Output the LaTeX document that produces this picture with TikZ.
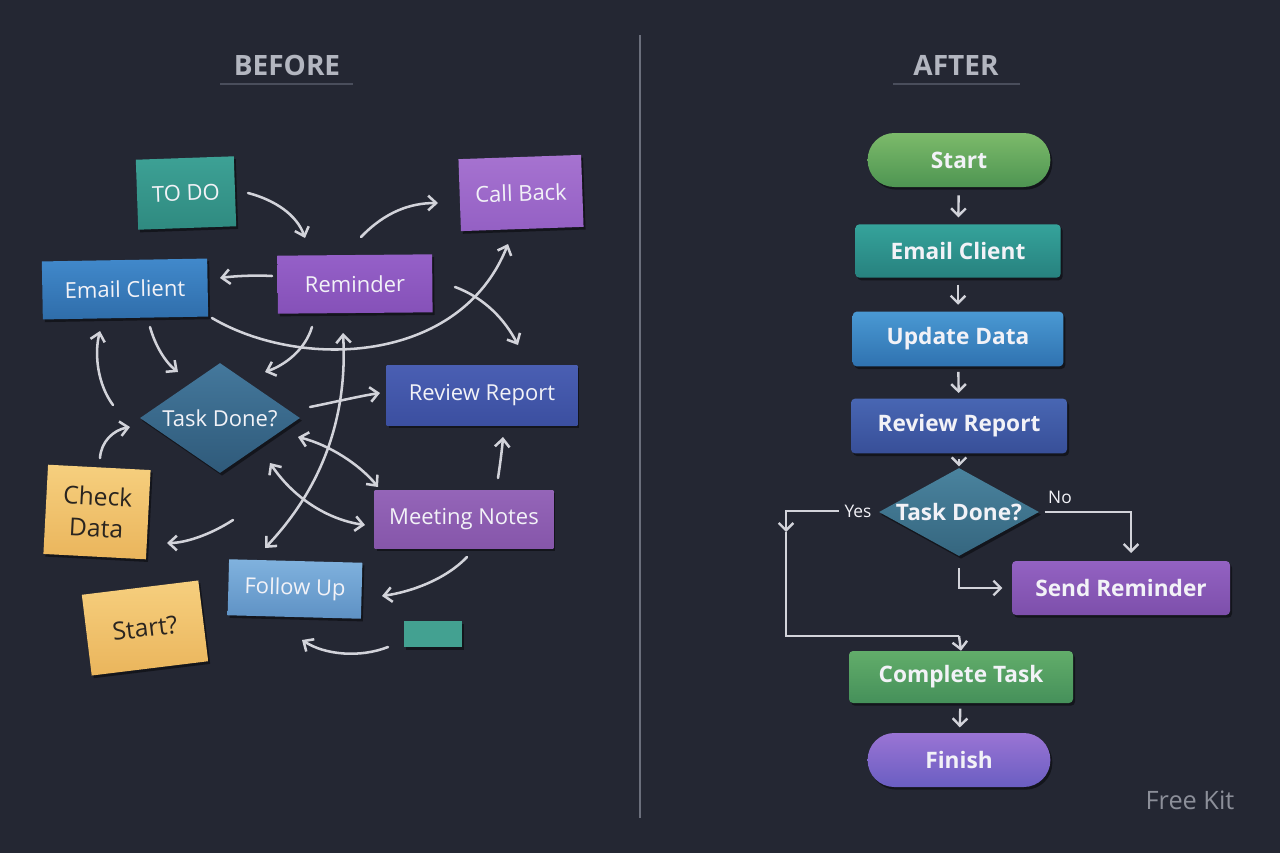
\documentclass[tikz,border=0pt]{standalone}
\usepackage{fontspec}
\setmainfont{Open Sans}
\usetikzlibrary{arrows.meta,shapes.geometric,shadows}
\definecolor{bg}{HTML}{242733}
\definecolor{arrowc}{HTML}{D2D3DA}
\definecolor{headc}{HTML}{B3B6C0}
\definecolor{rulec}{HTML}{4A4E5C}
\definecolor{divc}{HTML}{6B6F7C}
\definecolor{txt}{HTML}{F2F2F7}
\definecolor{ink}{HTML}{2A2520}
\definecolor{fk}{HTML}{8C8F99}
% before
\definecolor{tealT}{HTML}{3DA195}\definecolor{tealB}{HTML}{2F8A80}
\definecolor{cbT}{HTML}{A673D0}\definecolor{cbB}{HTML}{9460C4}
\definecolor{emT}{HTML}{4189CB}\definecolor{emB}{HTML}{2F6DAA}
\definecolor{reT}{HTML}{9560C8}\definecolor{reB}{HTML}{8551B8}
\definecolor{tdT}{HTML}{44789C}\definecolor{tdB}{HTML}{2F5A7A}
\definecolor{rrT}{HTML}{4A5FB3}\definecolor{rrB}{HTML}{3B4FA0}
\definecolor{mnT}{HTML}{9465B8}\definecolor{mnB}{HTML}{8656AA}
\definecolor{fuT}{HTML}{80B2DE}\definecolor{fuB}{HTML}{5E91C4}
\definecolor{yeT}{HTML}{F6CF7E}\definecolor{yeB}{HTML}{EAB55C}
\definecolor{smt}{HTML}{43A191}
% after
\definecolor{stT}{HTML}{7CBA6A}\definecolor{stB}{HTML}{4E9552}
\definecolor{e2T}{HTML}{35A39B}\definecolor{e2B}{HTML}{27817E}
\definecolor{udT}{HTML}{4A99D3}\definecolor{udB}{HTML}{2F72B0}
\definecolor{r2T}{HTML}{4866B3}\definecolor{r2B}{HTML}{384F98}
\definecolor{t2T}{HTML}{4A839E}\definecolor{t2B}{HTML}{35667F}
\definecolor{srT}{HTML}{9362C2}\definecolor{srB}{HTML}{7D4FAB}
\definecolor{ctT}{HTML}{62AD6A}\definecolor{ctB}{HTML}{45905A}
\definecolor{fiT}{HTML}{9A74D4}\definecolor{fiB}{HTML}{6A5EC2}
\begin{document}
\begin{tikzpicture}[x=0.75pt,y=-0.75pt,
  shd/.style={drop shadow={shadow xshift=1.5pt,shadow yshift=-2pt,opacity=0.45,fill=black}},
  sticky/.style={shape=rectangle,inner sep=0pt,text=txt,align=center,font=\fontsize{16.5}{20}\selectfont,shd},
  note/.style={sticky,text=ink,top color=yeT,bottom color=yeB,font=\fontsize{18.5}{24}\selectfont},
  flow/.style={shape=rectangle,rounded corners=3pt,inner sep=0pt,text=txt,font=\bfseries\fontsize{17}{20}\selectfont,shd},
  pill/.style={flow,rounded corners=20pt},
  barr/.style={draw=arrowc,line width=1.9pt,line cap=round,-{Straight Barb[length=6pt,width=11pt]}},
  darr/.style={draw=arrowc,line width=1.9pt,line cap=round,{Straight Barb[length=6pt,width=11pt]}-{Straight Barb[length=6pt,width=11pt]}},
  aline/.style={draw=arrowc,line width=1.8pt},
  aarr/.style={aline,-{Straight Barb[length=5.5pt,width=11pt]}},
  head/.style={text=headc,font=\bfseries\fontsize{21}{24}\selectfont},
  lbl/.style={text=txt,font=\fontsize{13}{15}\selectfont}
]
\useasboundingbox (0,0) rectangle (1280,853);
\fill[bg] (0,0) rectangle (1280,853);

% divider and headers
\coordinate (d1) at (640,35);
\coordinate (d2) at (640,818);
\draw[divc,line width=1.4pt] (d1) -- (d2);
\node[head] (hb) at (287,65) {BEFORE};
\node[head] (ha) at (956,65) {AFTER};
\coordinate (hb1) at (220,84); \coordinate (hb2) at (353,84);
\coordinate (ha1) at (893,84); \coordinate (ha2) at (1020,84);
\draw[rulec,line width=0.9pt] (hb1) -- (hb2);
\draw[rulec,line width=0.9pt] (ha1) -- (ha2);

% ================= BEFORE =================
\node[sticky,top color=tealT,bottom color=tealB,minimum width=73.5pt,minimum height=52.5pt,rotate=2] (todo) at (186,193) {TO DO};
\node[sticky,top color=cbT,bottom color=cbB,minimum width=92pt,minimum height=54pt,rotate=2] (callback) at (521,193) {Call Back};
\node[sticky,top color=emT,bottom color=emB,minimum width=124pt,minimum height=43.5pt,rotate=1] (email) at (125,289) {Email Client};
\node[sticky,top color=reT,bottom color=reB,minimum width=116pt,minimum height=43.5pt,rotate=0.5] (reminder) at (355,284) {Reminder};
\node[sticky,shape=diamond,shape aspect=1.45,top color=tdT,bottom color=tdB,minimum width=120pt,minimum height=82.5pt] (td1) at (220,418) {Task Done?};
\node[sticky,top color=rrT,bottom color=rrB,minimum width=143pt,minimum height=45pt] (review1) at (482,395) {Review Report};
\node[sticky,top color=mnT,bottom color=mnB,minimum width=134pt,minimum height=43.5pt] (meeting) at (464,519) {Meeting Notes};
\node[sticky,top color=fuT,bottom color=fuB,minimum width=100pt,minimum height=42pt,rotate=-1.5] (follow) at (295,589) {Follow Up};
\node[note,minimum width=77pt,minimum height=67pt,rotate=-3] (check) at (97,512) {Check\\Data};
\node[note,minimum width=88pt,minimum height=61pt,rotate=7] (startq) at (145,628) {Start?};
\node[sticky,fill=smt,minimum width=43.5pt,minimum height=19.5pt] (smalltile) at (433,634) {};

% before connectors (free-hand arrows)
\coordinate (a1s) at (248,193);  \coordinate (a1e) at (305,238);
\draw[barr] (a1s) .. controls (275,200) and (297,215) .. (a1e);
\coordinate (a2s) at (272,276);  \coordinate (a2e) at (220,278);
\draw[barr] (a2s) .. controls (255,275) and (235,276) .. (a2e);
\coordinate (a3s) at (361,237);  \coordinate (a3e) at (438,203);
\draw[barr] (a3s) .. controls (385,212) and (410,203) .. (a3e);
\coordinate (a4s) at (212,318);  \coordinate (a4e) at (508,244);
\draw[barr] (a4s) .. controls (300,370) and (460,365) .. (a4e);
\coordinate (a5s) at (455,287);  \coordinate (a5e) at (518,345);
\draw[barr] (a5s) .. controls (485,298) and (505,320) .. (a5e);
\coordinate (a6s) at (312,327);  \coordinate (a6e) at (265,372);
\draw[barr] (a6s) .. controls (305,350) and (285,365) .. (a6e);
\coordinate (a7s) at (343,333);  \coordinate (a7e) at (265,548);
\draw[darr] (a7s) .. controls (348,420) and (320,490) .. (a7e);
\coordinate (a8s) at (150,327);  \coordinate (a8e) at (178,372);
\draw[barr] (a8s) .. controls (155,345) and (165,362) .. (a8e);
\coordinate (a9s) at (113,405);  \coordinate (a9e) at (100,331);
\draw[barr] (a9s) .. controls (98,385) and (94,355) .. (a9e);
\coordinate (a10s) at (100,458); \coordinate (a10e) at (130,427);
\draw[barr] (a10s) .. controls (101,442) and (113,430) .. (a10e);
\coordinate (a11s) at (310,407); \coordinate (a11e) at (380,393);
\draw[barr] (a11s) .. controls (335,402) and (360,396) .. (a11e);
\coordinate (a12s) at (298,437); \coordinate (a12e) at (378,487);
\draw[darr] (a12s) .. controls (330,445) and (360,465) .. (a12e);
\coordinate (a13s) at (270,463); \coordinate (a13e) at (365,525);
\draw[darr] (a13s) .. controls (295,500) and (330,520) .. (a13e);
\coordinate (a14s) at (498,478); \coordinate (a14e) at (503,437);
\draw[barr] (a14s) .. controls (500,465) and (502,450) .. (a14e);
\coordinate (a15s) at (233,520); \coordinate (a15e) at (167,543);
\draw[barr] (a15s) .. controls (210,535) and (185,543) .. (a15e);
\coordinate (a16s) at (467,557); \coordinate (a16e) at (382,596);
\draw[barr] (a16s) .. controls (445,580) and (410,592) .. (a16e);
\coordinate (a17s) at (388,647); \coordinate (a17e) at (302,640);
\draw[barr] (a17s) .. controls (360,658) and (325,655) .. (a17e);

% ================= AFTER =================
\node[pill,top color=stT,bottom color=stB,minimum width=137pt,minimum height=40.5pt] (start) at (959,160) {Start};
\node[flow,top color=e2T,bottom color=e2B,minimum width=154pt,minimum height=40pt] (email2) at (958,251) {Email Client};
\node[flow,top color=udT,bottom color=udB,minimum width=158pt,minimum height=41pt] (update) at (958,339) {Update Data};
\node[flow,top color=r2T,bottom color=r2B,minimum width=162pt,minimum height=41pt] (review2) at (959,426) {Review Report};
\node[flow,shape=diamond,shape aspect=1.8,rounded corners=0pt,top color=t2T,bottom color=t2B,minimum width=120pt,minimum height=66pt] (td2) at (959,512) {Task Done?};
\node[flow,top color=srT,bottom color=srB,minimum width=163.5pt,minimum height=40.5pt] (send) at (1121,588) {Send Reminder};
\node[flow,top color=ctT,bottom color=ctB,minimum width=168pt,minimum height=39pt] (complete) at (961,677) {Complete Task};
\node[pill,top color=fiT,bottom color=fiB,minimum width=137pt,minimum height=40.5pt] (finish) at (959,760) {Finish};

\draw[aarr,shorten <=6pt,shorten >=5pt] (start) -- (email2);
\draw[aarr,shorten <=5pt,shorten >=5pt] (email2) -- (update);
\draw[aarr,shorten <=4pt,shorten >=4pt] (update) -- (review2);
\draw[aarr,shorten <=4pt,shorten >=1pt] (review2) -- (td2);

\node[lbl] (yes) at (858,511) {Yes};
\node[lbl] (no) at (1060,497) {No};
\coordinate (yc) at (786,532);
\coordinate (yj) at (959,636);
\draw[aarr] ([xshift=-1pt]yes.west) -| (yc);
\draw[aline] (yc) |- (yj);
\draw[aarr] (yj) -- (complete.north);
\coordinate (nc) at (1131,553);
\draw[aarr] ([xshift=4pt]td2.east) -| (nc);
\draw[aarr] ([yshift=-9pt]td2.south) |- ([xshift=-7pt]send.west);
\draw[aarr,shorten <=4pt,shorten >=4pt] (complete) -- (finish);

\node[text=fk,font=\fontsize{19}{22}\selectfont] (freekit) at (1190,800) {Free Kit};
\end{tikzpicture}
\end{document}
